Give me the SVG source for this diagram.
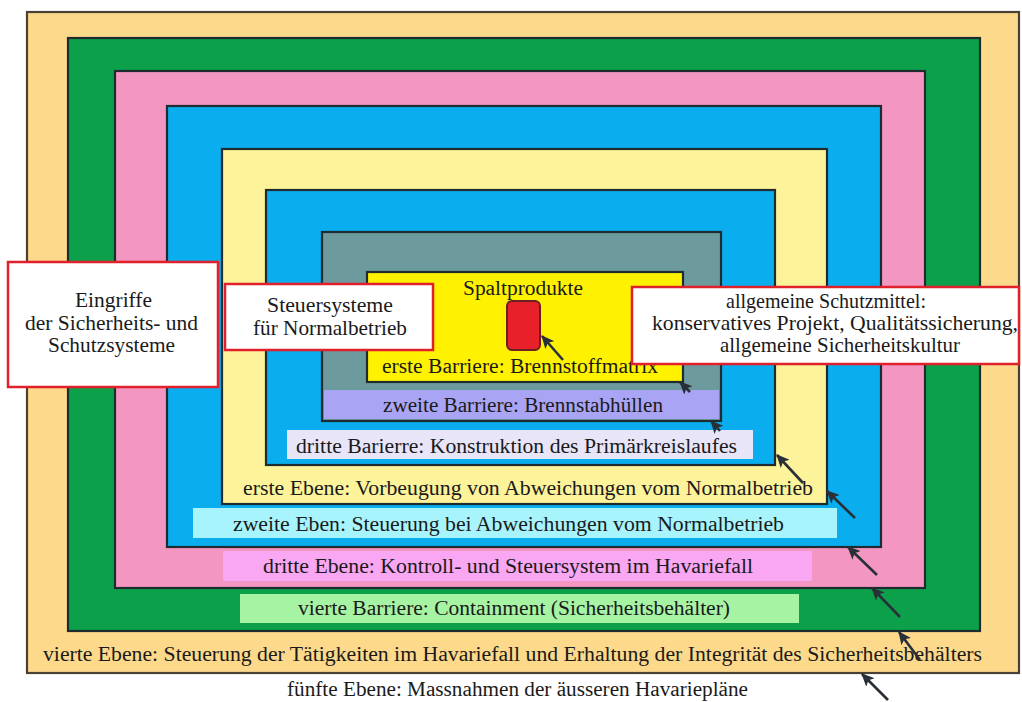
<svg xmlns="http://www.w3.org/2000/svg" width="1022" height="702" viewBox="0 0 1022 702">
<defs>
<marker id="ah" markerUnits="userSpaceOnUse" markerWidth="14" markerHeight="12" refX="12" refY="6" orient="auto">
<path d="M0,0 L13,6 L0,12 L3,6 Z" fill="#2a3038"/>
</marker>
<style>
.ring{stroke:#1e2c30;stroke-width:2.2}
.bar{stroke:none}
.t{font-family:"Liberation Serif","Times New Roman",serif;font-size:20px;fill:#1a1a1a}
.tb{font-family:"Liberation Serif","Times New Roman",serif;font-size:21px;fill:#1a1a1a}
.rbox{fill:#ffffff;stroke:#e0202a;stroke-width:2.5}
.arr{stroke:#2a3038;stroke-width:2.6;fill:none;marker-end:url(#ah)}
</style>
</defs>
<rect width="1022" height="702" fill="#ffffff"/>

<g id="level5-outer">
<rect x="27" y="12" width="992" height="661" fill="#FDD98B" stroke="#4a4036" stroke-width="2.2"/>
</g>
<g id="barrier4-green">
<rect class="ring" x="68" y="38" width="912" height="593" fill="#0DA04B"/>
</g>
<g id="level3-pink">
<rect class="ring" x="115" y="71" width="810" height="517" fill="#F396C1"/>
</g>
<g id="level2-blue">
<rect class="ring" x="167" y="106" width="714" height="441" fill="#0AADEE"/>
</g>
<g id="level1-yellow">
<rect class="ring" x="222" y="149" width="605" height="355" fill="#FCF39A"/>
</g>
<g id="barrier3-blue">
<rect class="ring" x="266" y="190" width="509" height="275" fill="#0AADEE"/>
</g>
<g id="barrier2-gray">
<rect class="ring" x="322" y="232" width="399" height="189" fill="#6C9A9D"/>
</g>
<g id="barrier1-yellow">
<rect class="ring" x="367" y="272" width="316" height="110" fill="#FFF200"/>
</g>
<g id="fission-products">
<rect x="507" y="301" width="33" height="49" rx="5" ry="5" fill="#E8202A" stroke="#6a2020" stroke-width="2"/>
</g>

<g id="labels-bars">
<rect class="bar" x="324" y="390" width="395" height="29" fill="#A9A4F3"/>
<rect class="bar" x="287" y="430" width="466" height="29" fill="#E8E5F8"/>
<rect class="bar" x="193" y="508" width="644" height="30" fill="#A8F4FD"/>
<rect class="bar" x="223" y="551" width="589" height="30" fill="#F9A6F3"/>
<rect class="bar" x="240" y="594" width="559" height="29" fill="#A6F3A3"/>
</g>

<g id="labels">
<text class="t" x="463" y="295" textLength="120" lengthAdjust="spacingAndGlyphs">Spaltprodukte</text>
<text class="t" x="382" y="373" textLength="276" lengthAdjust="spacingAndGlyphs">erste Barriere: Brennstoffmatrix</text>
<text class="t" x="383" y="412" textLength="280" lengthAdjust="spacingAndGlyphs">zweite Barriere: Brennstabhüllen</text>
<text class="t" x="296" y="453" textLength="441" lengthAdjust="spacingAndGlyphs">dritte Barierre: Konstruktion des Primärkreislaufes</text>
<text class="t" x="243" y="495" textLength="570" lengthAdjust="spacingAndGlyphs">erste Ebene: Vorbeugung von Abweichungen vom Normalbetrieb</text>
<text class="t" x="233" y="531" textLength="551" lengthAdjust="spacingAndGlyphs">zweite Eben: Steuerung bei Abweichungen vom Normalbetrieb</text>
<text class="t" x="263" y="573" textLength="490" lengthAdjust="spacingAndGlyphs">dritte Ebene: Kontroll- und Steuersystem im Havariefall</text>
<text class="t" x="298" y="615" textLength="432" lengthAdjust="spacingAndGlyphs">vierte Barriere: Containment (Sicherheitsbehälter)</text>
<text class="t" x="43" y="661" textLength="939" lengthAdjust="spacingAndGlyphs">vierte Ebene: Steuerung der Tätigkeiten im Havariefall und Erhaltung der Integrität des Sicherheitsbehälters</text>
<text class="t" x="287" y="696" textLength="461" lengthAdjust="spacingAndGlyphs">fünfte Ebene: Massnahmen der äusseren Havariepläne</text>
</g>

<g id="connectors">
<line class="arr" x1="563" y1="360" x2="542" y2="336"/>
<line class="arr" x1="690" y1="392" x2="680" y2="382"/>
<line class="arr" x1="720" y1="431" x2="711" y2="421"/>
<line class="arr" x1="803" y1="483" x2="777" y2="455"/>
<line class="arr" x1="855" y1="518" x2="827" y2="491"/>
<line class="arr" x1="877" y1="575" x2="848" y2="547"/>
<line class="arr" x1="900" y1="617" x2="872" y2="588"/>
<line class="arr" x1="920" y1="660" x2="899" y2="632"/>
<line class="arr" x1="888" y1="700" x2="862" y2="674"/>
</g>

<g id="box-eingriffe">
<rect class="rbox" x="8" y="262" width="210" height="125"/>
<text class="tb" x="75" y="307" textLength="77" lengthAdjust="spacingAndGlyphs">Eingriffe</text>
<text class="tb" x="25" y="330" textLength="173" lengthAdjust="spacingAndGlyphs">der Sicherheits- und</text>
<text class="tb" x="48" y="352" textLength="127" lengthAdjust="spacingAndGlyphs">Schutzsysteme</text>
</g>
<g id="box-steuersysteme">
<rect class="rbox" x="225" y="284" width="208" height="66"/>
<text class="tb" x="267" y="312" textLength="126" lengthAdjust="spacingAndGlyphs">Steuersysteme</text>
<text class="tb" x="253" y="335" textLength="154" lengthAdjust="spacingAndGlyphs">für Normalbetrieb</text>
</g>
<g id="box-schutzmittel">
<rect class="rbox" x="632" y="287" width="387" height="77"/>
<text class="tb" x="726" y="308" textLength="200" lengthAdjust="spacingAndGlyphs">allgemeine Schutzmittel:</text>
<text class="tb" x="652" y="330" textLength="366" lengthAdjust="spacingAndGlyphs">konservatives Projekt, Qualitätssicherung,</text>
<text class="tb" x="720" y="352" textLength="240" lengthAdjust="spacingAndGlyphs">allgemeine Sicherheitskultur</text>
</g>
</svg>
